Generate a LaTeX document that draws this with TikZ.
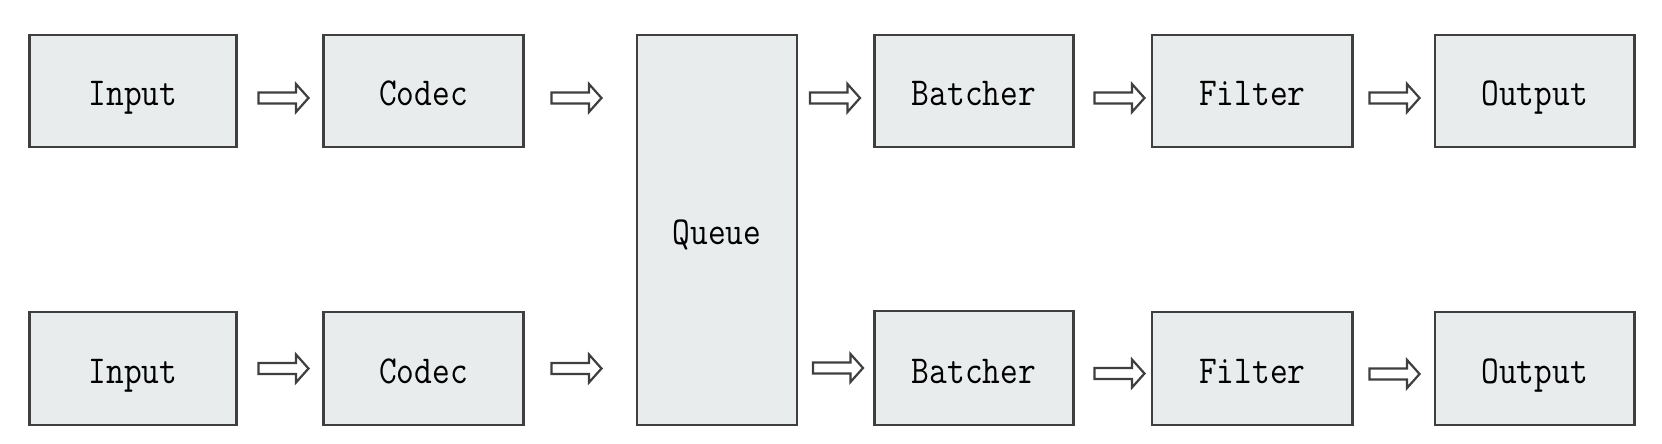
\documentclass[tikz,border=0pt]{standalone}
\usepackage{fontspec}
\usetikzlibrary{calc}
\definecolor{boxfill}{HTML}{E9ECEC}
\definecolor{edge}{HTML}{3F3F3F}
\tikzset{
  px/.style={x=0.5pt,y=-0.5pt},
  box/.style={draw=edge,fill=boxfill,line width=1.1pt,inner sep=0pt,outer sep=0pt,
    text height=15pt,text depth=0pt,
    font=\ttfamily\fontsize{19.8pt}{22pt}\selectfont},
  barrow/.pic={\draw[draw=edge,fill=white,line width=1.1pt,line join=miter]
    (0,-5.5) -- (37.5,-5.5) -- (37.5,-14) -- (50,0) -- (37.5,14) -- (37.5,5.5) -- (0,5.5) -- cycle;}
}
\newcommand{\lbl}[1]{\scalebox{0.87}[1]{#1}}
\begin{document}
\begin{tikzpicture}[px]
\useasboundingbox (0,0) rectangle (1662,444);
% top row
\node[box,minimum width=103.5pt,minimum height=56pt] (in1) at (133,91) {\lbl{Input}};
\node[box,minimum width=100pt,minimum height=56pt] (cod1) at (423.5,91) {\lbl{Codec}};
\node[box,minimum width=80pt,minimum height=195pt] (q) at (717,230) {\lbl{Queue}};
\node[box,minimum width=99.5pt,minimum height=56pt] (bat1) at (974,91) {\lbl{Batcher}};
\node[box,minimum width=100.25pt,minimum height=56pt] (fil1) at (1252.3,91) {\lbl{Filter}};
\node[box,minimum width=99.75pt,minimum height=56pt] (out1) at (1534.7,91) {\lbl{Output}};
% bottom row
\node[box,minimum width=103.5pt,minimum height=56.5pt] (in2) at (133,368.5) {\lbl{Input}};
\node[box,minimum width=100pt,minimum height=56.5pt] (cod2) at (423.5,368.5) {\lbl{Codec}};
\node[box,minimum width=99.5pt,minimum height=57pt] (bat2) at (974,368) {\lbl{Batcher}};
\node[box,minimum width=100.25pt,minimum height=56.5pt] (fil2) at (1252.3,368.5) {\lbl{Filter}};
\node[box,minimum width=99.75pt,minimum height=56.5pt] (out2) at (1534.7,368.5) {\lbl{Output}};
% arrows top
\pic at ($(in1.east)+(22,7)$) {barrow};
\pic at ($(cod1.east)+(28,7)$) {barrow};
\pic at ($(q.east |- bat1.west)+(13,7)$) {barrow};
\pic at ($(bat1.east)+(21,7)$) {barrow};
\pic at ($(fil1.east)+(17,7)$) {barrow};
% arrows bottom
\pic at ($(in2.east)+(22,0)$) {barrow};
\pic at ($(cod2.east)+(28,0)$) {barrow};
\pic at ($(q.east |- bat2.west)+(16,0)$) {barrow};
\pic at ($(bat2.east)+(21,5.5)$) {barrow};
\pic at ($(fil2.east)+(17,5.5)$) {barrow};
\end{tikzpicture}
\end{document}
